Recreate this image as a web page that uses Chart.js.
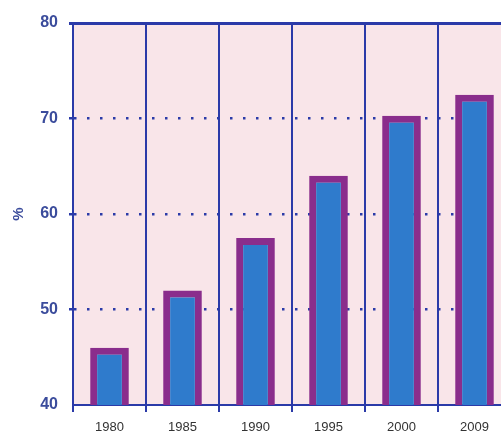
<!DOCTYPE html>
<html>
<head>
<meta charset="utf-8">
<script src="https://cdn.jsdelivr.net/npm/chart.js@4/dist/chart.umd.min.js"></script>
<style>
  html, body { margin: 0; padding: 0; background: #fff; overflow: hidden; }
  #wrap { width: 515px; height: 432px; position: relative; }
</style>
</head>
<body>
<div id="wrap"><canvas id="Canvas"></canvas></div>
<script>
// dados
let anos = ["1980", "1985", "1990", "1995", "2000", "2009"];
let valores = [46, 52, 57.5, 64, 70.3, 72.5];
let ticksY = [40, 50, 60, 70, 80];

let azulEixo = '#2b3aa8';
let azulTexto = '#3b4c9c';

// fundo rosa da area do grafico
let fundoRosa = {
  id: 'fundoRosa',
  beforeDraw(chart) {
    let a = chart.chartArea;
    let ctx = chart.ctx;
    ctx.save();
    ctx.fillStyle = '#f9e5e9';
    ctx.fillRect(a.left, a.top, a.right - a.left, a.bottom - a.top);
    ctx.restore();
  }
};

let ctx = document.getElementById("Canvas").getContext("2d");

new Chart(ctx, {
  type: "bar",
  data: {
    labels: anos,
    datasets: [{
      data: valores,
      backgroundColor: '#2f7bcc',
      borderColor: '#8a2d8c',
      borderWidth: 7,
      borderSkipped: false,
      barPercentage: 0.53,
      categoryPercentage: 1
    }]
  },
  options: {
    responsive: true,
    maintainAspectRatio: false,
    animation: false,
    layout: { padding: { top: 23, right: 4, left: 0, bottom: 0 } },
    plugins: {
      legend: { display: false },
      tooltip: { enabled: false }
    },
    scales: {
      x: {
        grid: {
          offset: true,
          color: azulEixo,
          lineWidth: 2,
          tickLength: 7
        },
        border: { color: azulEixo, width: 2 },
        ticks: {
          color: '#333',
          font: { family: 'Liberation Sans', size: 13 },
          padding: 8
        },
        afterFit: function (scale) { scale.height = 27; }
      },
      y: {
        min: 40,
        max: 80,
        afterBuildTicks: function (scale) {
          scale.ticks = ticksY.map(v => ({ value: v }));
        },
        grid: {
          color: function (c) { return c.tick && c.tick.value === 40 ? 'rgba(0,0,0,0)' : azulEixo; },
          lineWidth: function (c) { return c.tick && c.tick.value === 80 ? 3 : 2.5; },
          tickLength: 4
        },
        border: {
          color: azulEixo,
          width: 2,
          dash: function (c) { return c.tick && c.tick.value === 80 ? [] : [2.5, 10.5]; }
        },
        ticks: {
          color: azulTexto,
          font: { family: 'Liberation Sans', size: 16, weight: 'bold' },
          padding: 11
        },
        title: {
          display: true,
          text: '%',
          color: azulTexto,
          font: { family: 'Liberation Sans', size: 15, weight: 'bold' },
          padding: { top: 10, bottom: 4 }
        },
        afterFit: function (scale) { scale.width = 73; }
      }
    }
  },
  plugins: [fundoRosa]
});
</script>
</body>
</html>
